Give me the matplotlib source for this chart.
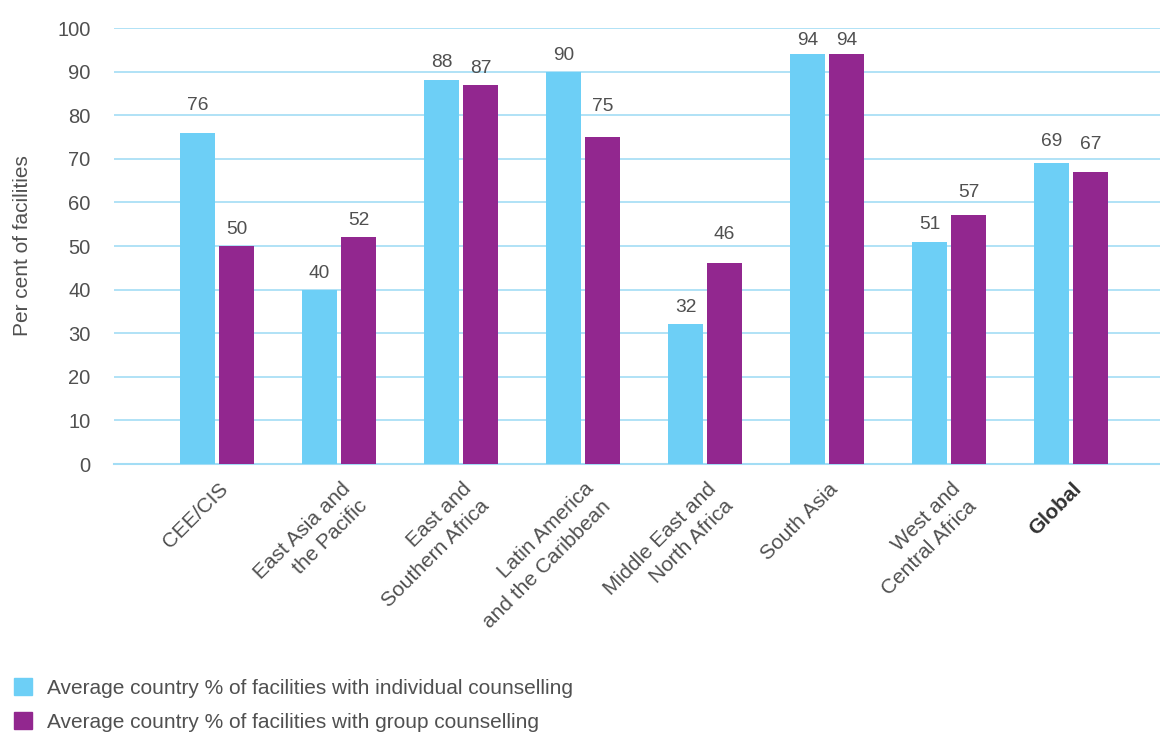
import matplotlib
matplotlib.use("Agg")
import matplotlib.pyplot as plt
import numpy as np
from matplotlib.patches import Patch

categories = ["CEE/CIS", "East Asia and\nthe Pacific", "East and\nSouthern Africa",
              "Latin America\nand the Caribbean", "Middle East and\nNorth Africa",
              "South Asia", "West and\nCentral Africa", "Global"]
individual = [76, 40, 88, 90, 32, 94, 51, 69]
group = [50, 52, 87, 75, 46, 94, 57, 67]
yticks = [0, 10, 20, 30, 40, 50, 60, 70, 80, 90, 100]
series_names = ["Average country % of facilities with individual counselling",
                "Average country % of facilities with group counselling"]

# label gaps above bars (pixels) - styling only
gap_individual = [23, 12, 13, 12, 12, 9, 13, 17]
gap_group = [12, 12, 12, 26, 24, 9, 18, 23]

CYAN = "#6dcff6"
PURPLE = "#92278f"
GRID = "#a3ddf5"
TXT = "#505050"

plt.rcParams['font.family'] = ['Liberation Sans', 'DejaVu Sans']

fig = plt.figure(figsize=(11.6, 7.33), dpi=100)
ax = fig.add_axes([114/1160, 1 - 464/733, (1160-114)/1160, (464-28)/733])

x = np.arange(len(categories))
w = 0.287
off = 0.16
b1 = ax.bar(x - off, individual, w, color=CYAN, zorder=3)
b2 = ax.bar(x + off, group, w, color=PURPLE, zorder=3)

for rects, vals, gaps in ((b1, individual, gap_individual), (b2, group, gap_group)):
    for r, v, g in zip(rects, vals, gaps):
        ax.annotate(str(v), (r.get_x() + r.get_width()/2, v), xytext=(0, g * 0.72),
                    textcoords="offset points", ha="center", va="baseline",
                    fontsize=13.8, color=TXT)

ax.set_ylim(0, 100)
ax.set_xlim(-0.845, 7.73)
ax.set_yticks(yticks)
ax.set_yticklabels([str(t) for t in yticks], fontsize=14.5, color=TXT)
ax.yaxis.grid(True, color=GRID, linewidth=1.2, zorder=0)
ax.set_axisbelow(True)
for s in ["top", "right", "left"]:
    ax.spines[s].set_visible(False)
ax.spines["bottom"].set_color(GRID)
ax.spines["bottom"].set_linewidth(1.5)
ax.tick_params(axis="both", length=0)
ax.tick_params(axis="y", pad=17)

ax.set_xticks(x + 0.01)
ax.set_xticklabels(categories, rotation=45, ha="right", rotation_mode="anchor",
                   fontsize=15, color=TXT, multialignment="right", linespacing=1.35)
ax.tick_params(axis="x", pad=11)
lbls = ax.get_xticklabels()
lbls[-1].set_fontweight("bold")
lbls[-1].set_color("#333333")

ax.set_ylabel("Per cent of facilities", fontsize=15, color=TXT)
ax.yaxis.set_label_coords(-82/1046, 0.5)

handles = [Patch(color=CYAN), Patch(color=PURPLE)]
fig.legend(handles, series_names, loc="lower left", bbox_to_anchor=(14/1160, 1/733),
           frameon=False, fontsize=15, labelcolor=TXT, handlelength=0.87,
           handleheight=0.87, handletextpad=0.7, labelspacing=0.7,
           borderpad=0, borderaxespad=0)

fig.savefig("out.png", dpi=100)
